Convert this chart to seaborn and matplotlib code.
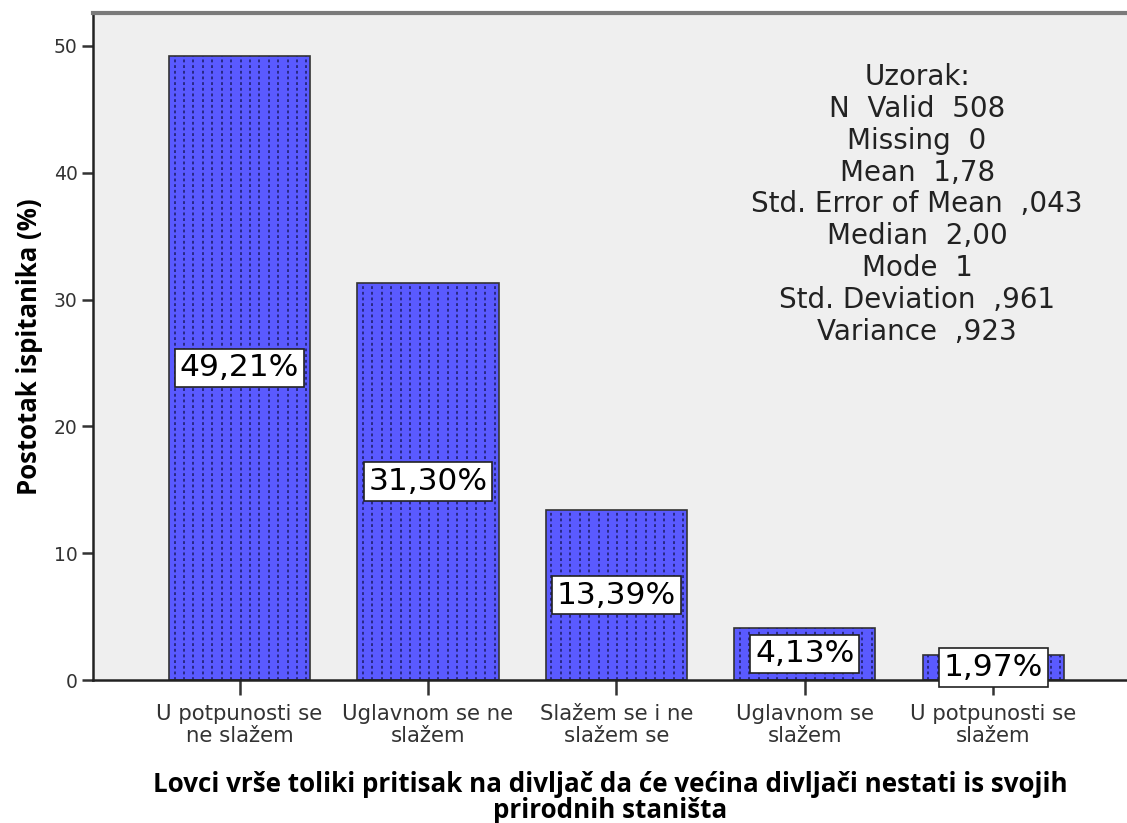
import matplotlib
matplotlib.use("Agg")
import matplotlib.pyplot as plt
import seaborn as sns
import pandas as pd
import numpy as np

categories = [
    "U potpunosti se\nne slažem",
    "Uglavnom se ne\nslažem",
    "Slažem se i ne\nslažem se",
    "Uglavnom se\nslažem",
    "U potpunosti se\nslažem",
]
percentages = [49.21, 31.30, 13.39, 4.13, 1.97]
value_labels = ["49,21%", "31,30%", "13,39%", "4,13%", "1,97%"]
y_ticks = [0, 10, 20, 30, 40, 50]
stats_lines = [
    "Uzorak:",
    "N  Valid  508",
    "Missing  0",
    "Mean  1,78",
    "Std. Error of Mean  ,043",
    "Median  2,00",
    "Mode  1",
    "Std. Deviation  ,961",
    "Variance  ,923",
]
x_title = "Lovci vrše toliki pritisak na divljač da će većina divljači nestati is svojih\nprirodnih staništa"
y_title = "Postotak ispitanika (%)"

sns.set_theme(style="white")
plt.rcParams["font.family"] = ["DejaVu Sans"]

df = pd.DataFrame({"kategorija": categories, "postotak": percentages})

fig = plt.figure(figsize=(11.27, 8.23), dpi=100)
ax = fig.add_axes([93 / 1127, 143 / 823, 1 - 93 / 1127, 667 / 823])
ax.set_facecolor("#efefef")

sns.barplot(data=df, x="kategorija", y="postotak", order=categories,
            color="#5a5aff", saturation=1, width=0.75, edgecolor="#333333",
            linewidth=1.2, ax=ax, zorder=2)

ax.set_xlim(-0.778, 4.71)
ax.set_ylim(0, 52.6)

# dotted fill texture: vertical dotted lines inside each bar
step = 0.05
for p in ax.patches:
    x0, w, h = p.get_x(), p.get_width(), p.get_height()
    xs = np.arange(x0 + step * 0.6, x0 + w - step * 0.3, step)
    vl = ax.vlines(xs, 0, h, colors="#202070", linewidth=1.2,
                   linestyles=(0, (1.7, 1.7)), zorder=2.5)
    vl.set_clip_path(p)

for i, (v, lab) in enumerate(zip(percentages, value_labels)):
    ax.text(i, v / 2, lab, ha="center", va="center", fontsize=22.5,
            color="black", zorder=4,
            bbox=dict(boxstyle="square,pad=0.15", fc="white", ec="#222222", lw=1.2))

ax.text(0.797, 0.925, "\n".join(stats_lines), transform=ax.transAxes,
        ha="center", va="top", fontsize=20, linespacing=1.175, color="#222222")

ax.set_yticks(y_ticks)
ax.set_yticklabels([str(t) for t in y_ticks])

ax.tick_params(axis="both", which="both", bottom=True, left=True,
               width=1.8, color="#333333", labelcolor="#333333",
               direction="out")
ax.tick_params(axis="x", length=11, pad=6, labelsize=15.3)
ax.tick_params(axis="y", length=8, pad=3, labelsize=13.5)
for lab in ax.get_xticklabels():
    lab.set_linespacing(1.13)

for side in ["left", "bottom", "top"]:
    ax.spines[side].set_visible(True)
    ax.spines[side].set_color("#222222")
    ax.spines[side].set_linewidth(1.8)
ax.spines["top"].set_color("#7a7a7a")
ax.spines["top"].set_linewidth(3)
ax.spines["right"].set_visible(False)

ax.set_xlabel(x_title, fontsize=18.7, fontweight="bold", labelpad=18,
              linespacing=0.99, family=["Open Sans", "DejaVu Sans"],
              color="black")
ax.set_ylabel(y_title, fontsize=18.5, fontweight="bold", labelpad=8,
              family=["Open Sans", "DejaVu Sans"], color="black")

fig.savefig("out.png", dpi=100, facecolor="white")
